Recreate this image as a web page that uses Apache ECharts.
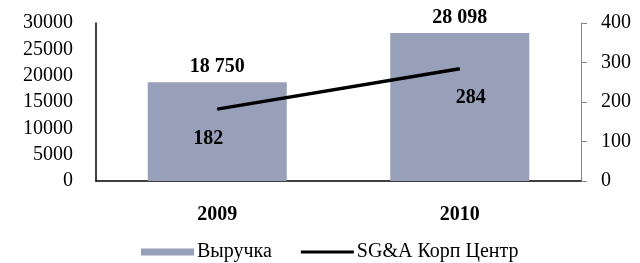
<!DOCTYPE html>
<html>
<head>
<meta charset="utf-8">
<script src="https://cdn.jsdelivr.net/npm/echarts@6/dist/echarts.min.js"></script>
<style>
  html, body { margin: 0; padding: 0; background: #fff; }
  #chart { width: 640px; height: 263px; }
</style>
</head>
<body>
<div id="chart"></div>
<script>
const years = ['2009', '2010']
const revenue = [18750, 28098]
const sga = [182, 284]
const leftTicks = [0, 30000, 5000]   // min, max, step
const rightTicks = [0, 400, 100]

const serif = '"Liberation Serif", "Times New Roman", serif'
const fmtSpace = v => String(v).replace(/\B(?=(\d{3})+(?!\d))/g, ' ')

// thin bar in the middle of a 53x7 box, so the legend line stays thin
const lineIcon = 'path://M0,0L53,0L53,0ZM0,2L53,2L53,5L0,5ZM0,7L53,7L53,7Z'

const chart = echarts.init(document.getElementById('chart'))

const option = {
  animation: false,
  textStyle: { fontFamily: serif },
  grid: {
    left: 96,
    right: 59,
    top: 23,
    bottom: 82
  },
  legend: {
    left: 136,
    top: 237,
    itemWidth: 53,
    itemHeight: 7,
    itemGap: 29,
    textStyle: { fontFamily: serif, fontSize: 20, color: '#000', padding: [0, 0, 0, -2] },
    data: [
      { name: 'Выручка', icon: 'rect' },
      { name: 'SG&A Корп Центр', icon: lineIcon }
    ]
  },
  xAxis: {
    type: 'category',
    data: years,
    axisLine: { lineStyle: { color: '#000', width: 1.5 } },
    axisTick: { show: false },
    axisLabel: {
      margin: 24,
      fontFamily: serif,
      fontSize: 20,
      fontWeight: 'bold',
      color: '#000'
    }
  },
  yAxis: [
    {
      type: 'value',
      min: leftTicks[0],
      max: leftTicks[1],
      interval: leftTicks[2],
      axisLine: { show: true, lineStyle: { color: '#000', width: 1.5 } },
      axisTick: { show: false },
      splitLine: { show: false },
      axisLabel: {
        margin: 23,
        fontFamily: serif,
        fontSize: 20,
        color: '#000',
        formatter: v => String(v)
      }
    },
    {
      type: 'value',
      position: 'right',
      min: rightTicks[0],
      max: rightTicks[1],
      interval: rightTicks[2],
      axisLine: { show: true, lineStyle: { color: '#888', width: 1 } },
      axisTick: { show: true, length: 6, lineStyle: { color: '#888' } },
      splitLine: { show: false },
      axisLabel: { margin: 20, fontFamily: serif, fontSize: 20, color: '#000' }
    }
  ],
  series: [
    {
      name: 'Выручка',
      type: 'bar',
      yAxisIndex: 0,
      data: revenue,
      barWidth: 139,
      itemStyle: { color: '#989fb9' },
      label: {
        show: true,
        position: 'top',
        distance: 5,
        fontFamily: serif,
        fontSize: 20,
        fontWeight: 'bold',
        color: '#000',
        formatter: p => fmtSpace(p.value)
      }
    },
    {
      name: 'SG&A Корп Центр',
      type: 'line',
      yAxisIndex: 1,
      data: sga.map((v, i) => ({ value: v, label: { offset: i === 0 ? [-9, 0] : [11, 0] } })),
      symbol: 'circle',
      symbolSize: 1,
      itemStyle: { color: '#000' },
      lineStyle: { color: '#000', width: 3.5 },
      label: {
        show: true,
        position: 'bottom',
        distance: 19,
        fontFamily: serif,
        fontSize: 20,
        fontWeight: 'bold',
        color: '#000'
      }
    }
  ]
}

chart.setOption(option)
</script>
</body>
</html>
